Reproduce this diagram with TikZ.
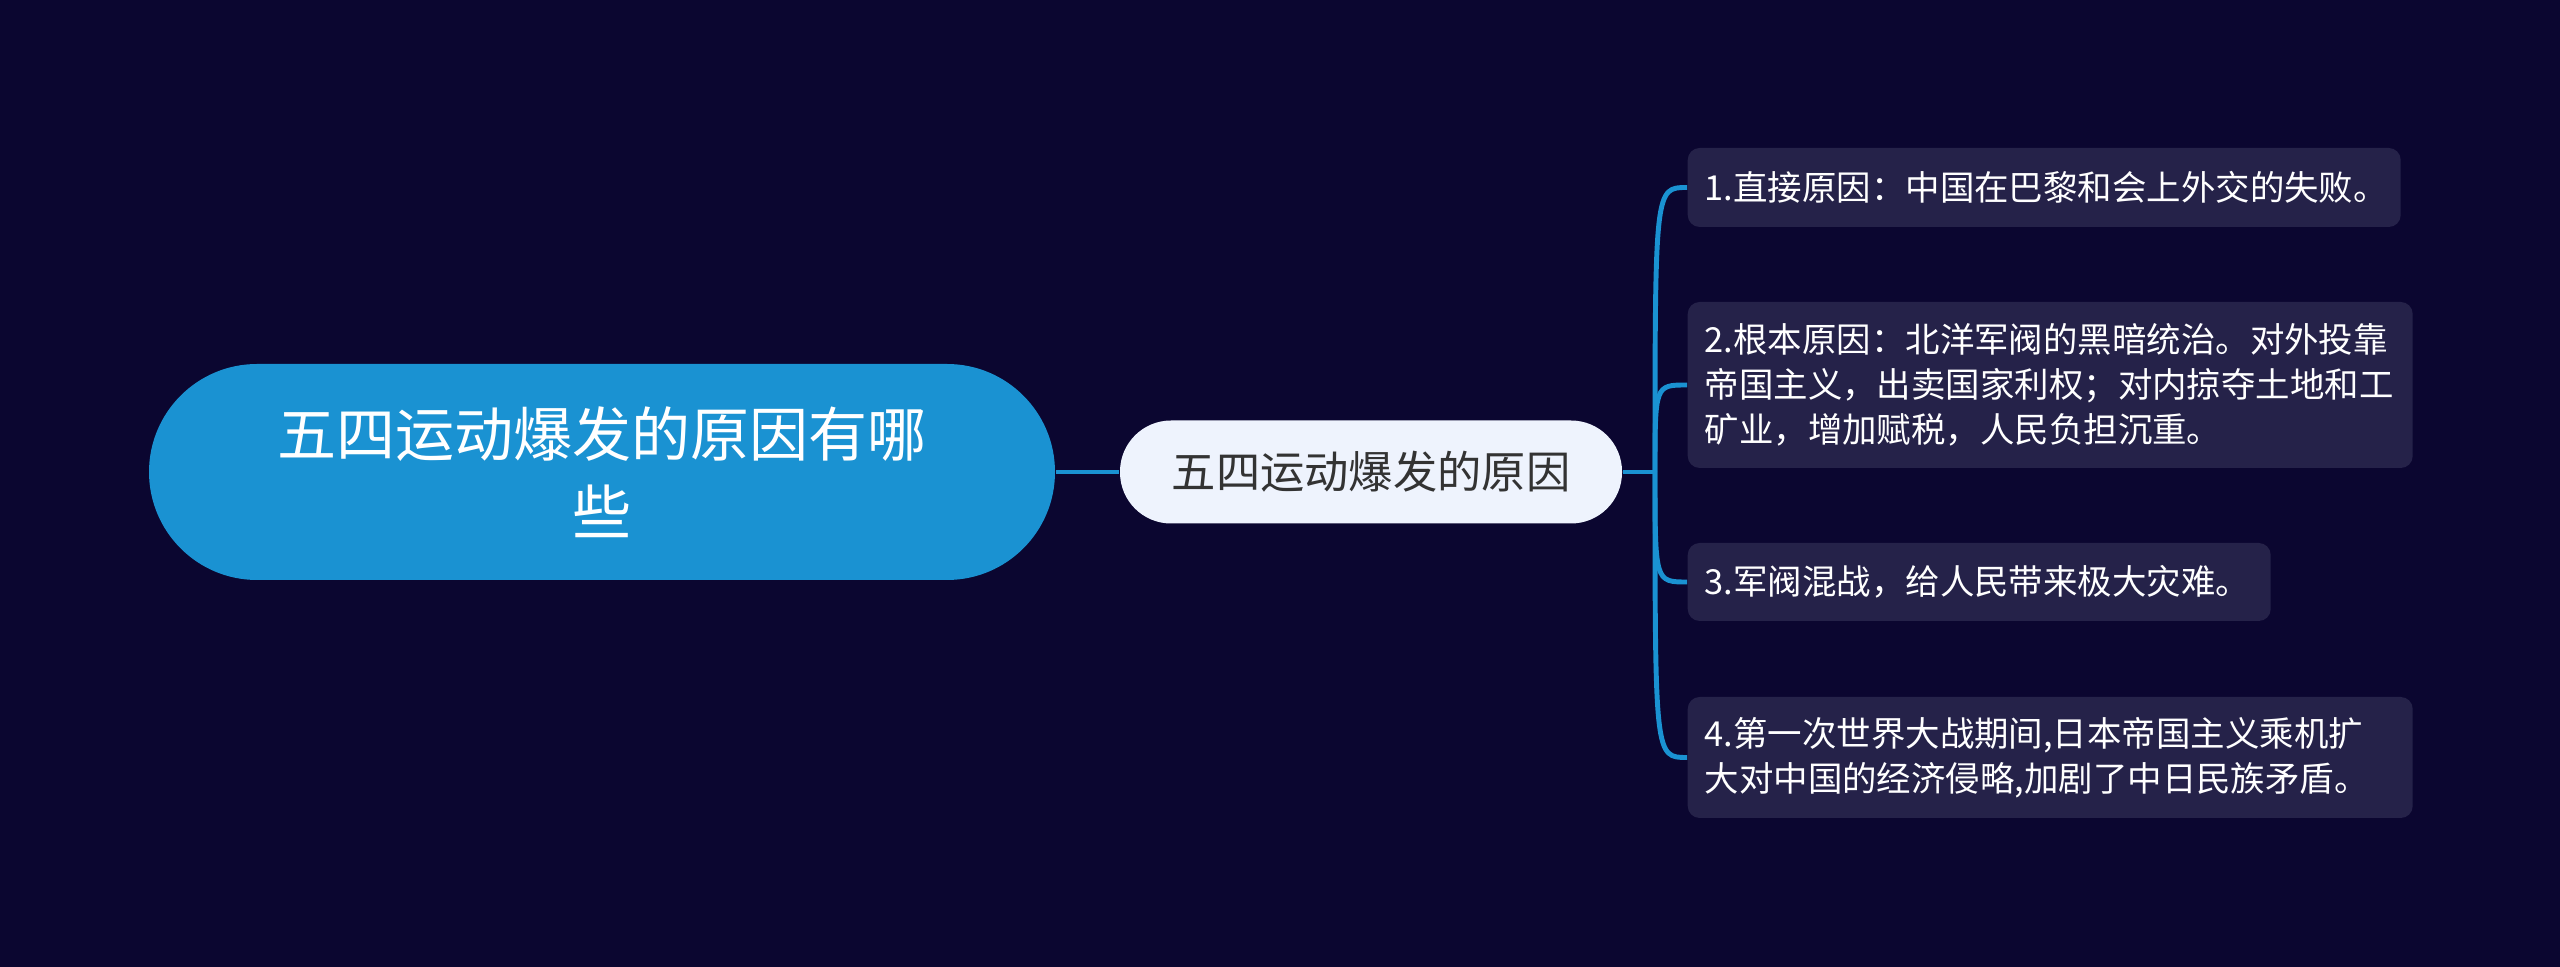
\documentclass[tikz,border=0pt]{standalone}
\usepackage{fontspec}
\setmainfont{Noto Sans CJK SC}
\definecolor{bgnavy}{HTML}{0B0630}
\definecolor{rootblue}{HTML}{1A92D2}
\definecolor{midfill}{HTML}{EEF3FD}
\definecolor{midtext}{HTML}{333333}
\definecolor{leaffill}{HTML}{252249}
\begin{document}
\begin{tikzpicture}[
    rootnode/.style={fill=rootblue, text=white, rounded corners=1.08cm, minimum width=9.06cm, minimum height=2.16cm, align=center, font=\fontsize{16.8}{22.2}\selectfont},
    midnode/.style={fill=midfill, text=midtext, rounded corners=0.51cm, minimum width=5.02cm, minimum height=1.03cm, font=\fontsize{12.6}{15}\selectfont},
    leaf/.style={fill=leaffill, text=white, rounded corners=0.12cm, anchor=west, inner xsep=0.17cm, align=left, font=\fontsize{9.8}{12.8}\selectfont},
    link/.style={rootblue, line width=1.4pt}]
    \fill[bgnavy] (0, 0) rectangle (25.6, 9.67);
    \useasboundingbox (0, 0) rectangle (25.6, 9.67);
    \node[rootnode] (root) at (6.02, 4.95) {五四运动爆发的原因有哪\\些};
    \node[midnode] (mid) at (13.71, 4.95) {五四运动爆发的原因};
    \coordinate (trunk) at (16.55, 4.95);
    \node[leaf, text width=6.79cm, minimum height=0.79cm] (c1) at (16.87, 7.795) {1.直接原因：中国在巴黎和会上外交的失败。};
    \node[leaf, text width=6.91cm, minimum height=1.66cm] (c2) at (16.87, 5.82) {2.根本原因：北洋军阀的黑暗统治。对外投靠\\帝国主义，出卖国家利权；对内掠夺土地和工\\矿业，增加赋税，人民负担沉重。};
    \node[leaf, text width=5.49cm, minimum height=0.78cm] (c3) at (16.87, 3.85) {3.军阀混战，给人民带来极大灾难。};
    \node[leaf, text width=6.91cm, minimum height=1.21cm] (c4) at (16.87, 2.095) {4.第一次世界大战期间,日本帝国主义乘机扩\\大对中国的经济侵略,加剧了中日民族矛盾。};
    \draw[link] (root) -- (mid);
    \draw[link] (mid) -- (trunk);
    \foreach \c in {c1, c2, c3, c4}
        \draw[link] (trunk) .. controls (trunk |- \c.west) .. (\c.west);
\end{tikzpicture}
\end{document}
